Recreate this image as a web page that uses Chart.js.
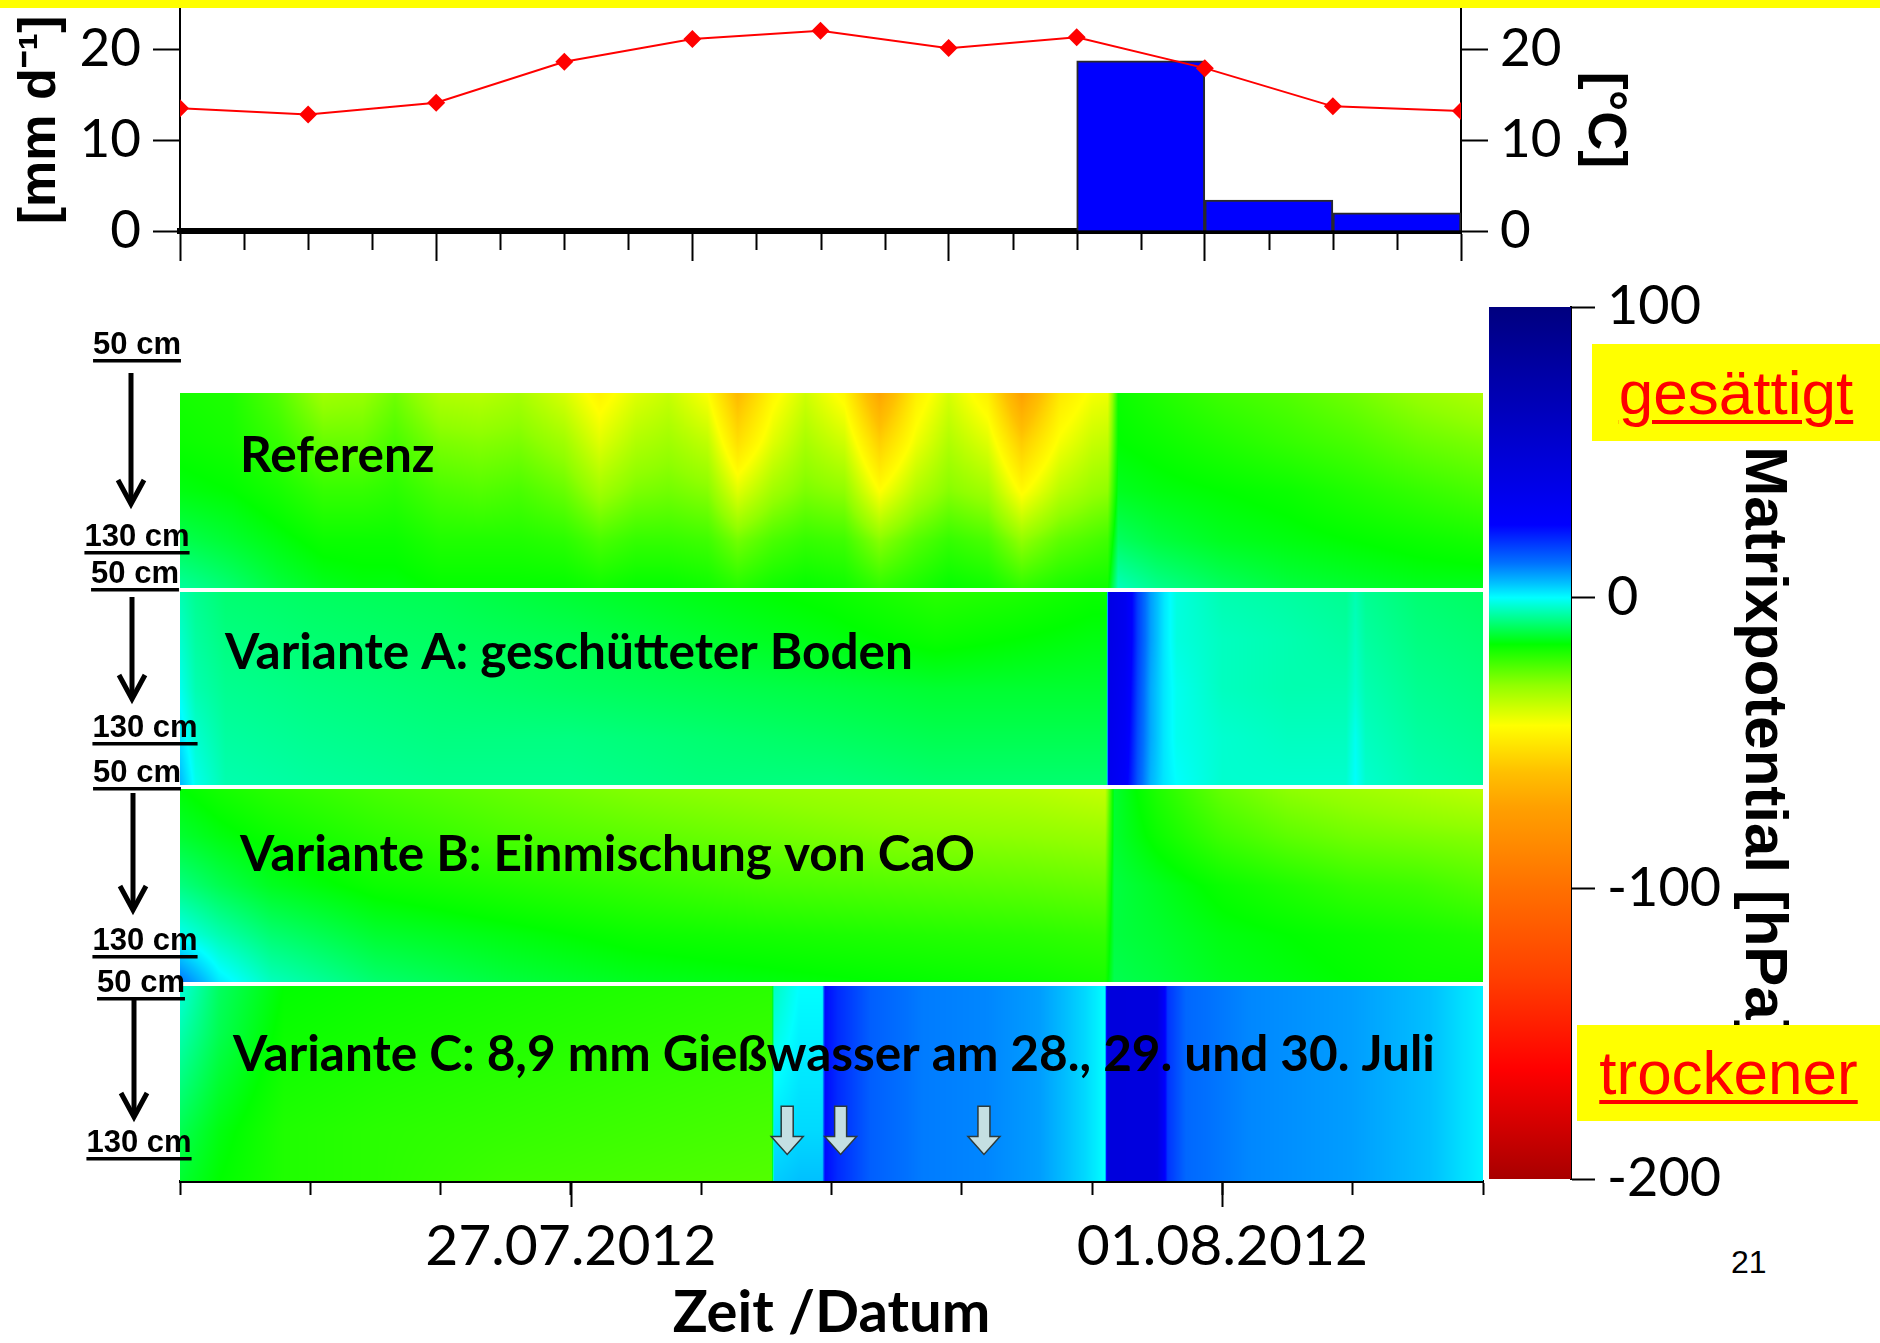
<!DOCTYPE html>
<html><head><meta charset="utf-8">
<script src="https://cdn.jsdelivr.net/npm/chart.js@4.4.1/dist/chart.umd.min.js"></script>
<style>
html,body{margin:0;padding:0;background:#fff;width:1880px;height:1343px;overflow:hidden;position:relative;}
canvas{position:absolute;}
#band{position:absolute;left:0;top:0;width:1880px;height:8px;background:#ffff00;}
.box{position:absolute;background:#ffff00;color:#ff0000;font-family:"Liberation Sans",Arial,sans-serif;font-size:62px;text-decoration:underline;text-decoration-thickness:4px;text-underline-offset:6px;display:flex;align-items:center;justify-content:center;line-height:1;}
#page{position:absolute;left:1731px;top:1244px;font-family:"Liberation Sans",Arial,sans-serif;font-size:32px;color:#000;}
</style></head>
<body>
<canvas id="top" width="1700" height="266" style="left:0;top:0"></canvas>
<canvas id="heat" width="1487" height="1103" style="left:0;top:240px"></canvas>
<canvas id="cbar" width="400" height="930" style="left:1480px;top:280px"></canvas>
<div id="band"></div>
<div class="box" style="left:1592px;top:344px;width:288px;height:97px">gesättigt</div>
<div class="box" style="left:1577px;top:1025px;width:303px;height:96px">trockener</div>
<div id="page">21</div>
<script>
// ---------------- DATA ----------------
// day 0 = 24.07.2012
const tempDays = [0, 1, 2, 3, 4, 5, 6, 7, 8, 9, 10];
const temperature = [13.5, 12.8, 14.1, 18.6, 21.1, 22.0, 20.1, 21.3, 17.9, 13.7, 13.2];
const precipDays = [7.5, 8.5, 9.5];
const precipitation = [18.7, 3.4, 2.0];

const dateTickDays = [3, 8];
const dateTickLabels = ['27.07.2012', '01.08.2012'];

const depths = [50, 70, 90, 110, 130];
const panelNames = ['Referenz', 'Variante A: geschütteter Boden', 'Variante B: Einmischung von CaO',
  'Variante C: 8,9 mm Gießwasser am 28., 29. und 30. Juli'];

const refTimes = [0, 0.4, 0.75, 1.1, 1.4, 1.65, 2.0, 2.3, 2.6, 2.95, 3.22, 3.5, 3.75, 4.05, 4.28, 4.55, 4.8, 5.1, 5.37, 5.65, 5.9, 6.2, 6.46, 6.75, 7.0, 7.12, 7.2, 7.5, 8.0, 8.5, 9.0, 9.5, 10];
const refValues = [
  [-18, -19, -24, -32, -31, -27, -34, -35, -33, -39, -47, -40, -37, -44, -62, -46, -38, -46, -70, -48, -39, -48, -72, -50, -43, -42, -17, -19, -22, -24, -27, -31, -34],
  [-17, -18, -21, -26, -26, -23, -28, -29, -28, -32, -40, -34, -32, -36, -52, -40, -33, -38, -56, -42, -34, -40, -57, -43, -37, -36, -16, -17, -19, -21, -23, -26, -28],
  [-15, -16, -18, -21, -21, -20, -23, -24, -23, -26, -32, -28, -27, -29, -40, -32, -28, -30, -44, -34, -29, -32, -45, -35, -31, -30, -14, -15, -16, -17, -19, -21, -23],
  [-11, -13, -15, -17, -17, -17, -19, -19, -19, -20, -23, -21, -21, -22, -27, -23, -21, -22, -29, -24, -21, -23, -30, -25, -23, -22, -10, -12, -14, -15, -16, -17, -18],
  [-6, -9, -12, -14, -15, -15, -16, -16, -16, -16, -17, -16, -16, -17, -19, -17, -16, -17, -20, -18, -16, -17, -20, -18, -17, -17, -4, -7, -10, -12, -13, -14, -14]
];

const varATimes = [0, 0.12, 0.35, 1.0, 2.0, 3.0, 4.0, 5.0, 5.8, 6.4, 7.0, 7.11, 7.13, 7.25, 7.35, 7.45, 7.55, 7.65, 8.0, 8.5, 8.95, 9.02, 9.1, 9.5, 10];
const varAValues = [
  [-5, -7, -9, -10, -11, -13, -15, -17, -20, -19, -17, -17, 40, 34, 18, 8, 2, -2, -5, -6, -7, -5, -7, -9, -10],
  [-3, -6, -8, -9, -10, -11, -13, -15, -17, -16, -15, -15, 40, 34, 18, 8, 2, -2, -4, -5, -6, -4, -6, -8, -9],
  [-1, -5, -7, -8, -9, -10, -11, -12, -13, -13, -13, -13, 38, 32, 17, 7, 2, -1, -4, -5, -5, -3, -5, -7, -8],
  [2, -3, -6, -7, -8, -8, -9, -10, -11, -11, -11, -11, 36, 30, 16, 7, 2, -1, -3, -4, -4, -1, -4, -6, -7],
  [6, -1, -5, -6, -7, -7, -8, -8, -9, -9, -9, -9, 34, 28, 15, 6, 2, 0, -3, -3, -3, 0, -3, -5, -6]
];

const varBTimes = [0, 0.3, 0.7, 1.5, 2.5, 3.5, 4.5, 5.5, 6.5, 7.1, 7.17, 7.5, 8.0, 8.5, 9.0, 9.5, 10];
const varBValues = [
  [-16, -18, -20, -23, -26, -29, -31, -33, -35, -37, -13, -19, -26, -30, -32, -34, -36],
  [-13, -15, -17, -20, -23, -25, -27, -29, -30, -31, -13, -17, -22, -25, -27, -28, -29],
  [-8, -11, -14, -17, -19, -21, -23, -24, -25, -26, -12, -14, -17, -19, -21, -22, -24],
  [-1, -5, -9, -13, -15, -17, -18, -19, -20, -21, -12, -13, -15, -16, -17, -18, -19],
  [12, 2, -4, -9, -12, -14, -15, -16, -17, -18, -11, -12, -14, -15, -16, -17, -17]
];

const varCTimes = [0, 0.3, 0.8, 1.5, 2.5, 3.5, 4.54, 4.56, 4.75, 4.93, 4.95, 5.05, 5.3, 5.7, 6.2, 6.6, 6.95, 7.1, 7.12, 7.5, 7.58, 7.72, 8.2, 9.0, 9.6, 10];
const varCValues = [
  [-2, -10, -16, -17, -18, -19, -20, -4, 0, 0, 24, 20, 14, 11, 10, 8, 3, 0, 45, 44, 19, 13, 10, 8, 5, 1],
  [-5, -11, -17, -18, -19, -20, -21, -2, 1, 1, 24, 20, 14, 11, 10, 8, 3, 0, 45, 44, 19, 13, 10, 8, 5, 1],
  [-8, -13, -18, -19, -20, -21, -22, 0, 2, 2, 24, 20, 14, 11, 10, 8, 3, 0, 45, 44, 19, 13, 10, 8, 5, 1],
  [-11, -15, -19, -20, -21, -22, -23, 2, 3, 3, 24, 20, 14, 11, 10, 8, 3, 0, 45, 44, 19, 13, 10, 8, 5, 1],
  [-13, -16, -19, -20, -22, -23, -24, 4, 5, 5, 24, 20, 14, 11, 10, 8, 3, 0, 45, 44, 19, 13, 10, 8, 5, 1]
];

const wateringDays = [4.66, 5.07, 6.17];

const colorbarTicks = [100, 0, -100, -200];
const cmapValues = [100, 25, 12, 5, 0, -8, -16, -30, -44, -60, -72, -100, -130, -162, -200];
const cmapColors = ['#00007f', '#0000ff', '#0070ff', '#00c0ff', '#00ffff', '#00ff80', '#00ff00', '#90ff00',
  '#ffff00', '#ffc000', '#ffa000', '#ff7000', '#ff4000', '#ff0000', '#a80000'];

// ---------------- HELPERS ----------------
Chart.defaults.font.family = 'Lato, "DejaVu Sans", sans-serif';
Chart.defaults.color = '#000';

const panels = [
  {times: refTimes, values: refValues},
  {times: varATimes, values: varAValues},
  {times: varBTimes, values: varBValues},
  {times: varCTimes, values: varCValues}
];
function hexToRgb(h) { return [parseInt(h.slice(1, 3), 16), parseInt(h.slice(3, 5), 16), parseInt(h.slice(5, 7), 16)]; }
const cmapRgb = cmapColors.map(hexToRgb);
function colorFor(v) {
  if (v >= cmapValues[0]) return cmapRgb[0];
  for (let i = 1; i < cmapValues.length; i++) {
    if (v >= cmapValues[i]) {
      const f = (cmapValues[i - 1] - v) / (cmapValues[i - 1] - cmapValues[i]);
      const a = cmapRgb[i - 1], b = cmapRgb[i];
      return [a[0] + (b[0] - a[0]) * f, a[1] + (b[1] - a[1]) * f, a[2] + (b[2] - a[2]) * f];
    }
  }
  return cmapRgb[cmapRgb.length - 1];
}
function sample(xs, ys, t) {
  if (t <= xs[0]) return ys[0];
  for (let i = 1; i < xs.length; i++) {
    if (t <= xs[i]) { const f = (t - xs[i - 1]) / (xs[i] - xs[i - 1]); return ys[i - 1] + (ys[i] - ys[i - 1]) * f; }
  }
  return ys[ys.length - 1];
}

// ---------------- TOP CHART ----------------
const minorTicks = {
  id: 'minorTicks',
  afterDraw(chart) {
    const {ctx, chartArea: a, scales: {x}} = chart;
    ctx.save(); ctx.strokeStyle = '#000'; ctx.lineWidth = 2;
    for (let t = 0.5; t < 10; t += 0.5) {
      if (t % 2 === 0) continue;
      const px = Math.round(x.getPixelForValue(t)) + 0.5;
      ctx.beginPath(); ctx.moveTo(px, a.bottom); ctx.lineTo(px, a.bottom + 19); ctx.stroke();
    }
    ctx.restore();
  }
};
const yTickCommon = {stepSize: 10, includeBounds: false, color: '#000', font: {size: 53, lineHeight: 1}, padding: 12};
const yGridCommon = {drawOnChartArea: false, tickLength: 27, tickColor: '#000', tickWidth: 2};
new Chart(document.getElementById('top'), {
  type: 'bar',
  data: {
    datasets: [
      {type: 'line', label: 'Temperatur', data: tempDays.map((d, i) => ({x: d, y: temperature[i]})), yAxisID: 'yT',
        borderColor: '#ff0000', borderWidth: 2, pointStyle: 'rectRot', pointRadius: 9, pointHoverRadius: 9,
        pointBackgroundColor: '#ff0000', pointBorderWidth: 0, tension: 0, order: 0},
      {type: 'bar', label: 'Niederschlag', data: precipDays.map((d, i) => ({x: d, y: precipitation[i]})), yAxisID: 'yP',
        backgroundColor: '#0000ff', borderColor: '#2a2a2a', borderWidth: 2, barPercentage: 1, categoryPercentage: 1, order: 1}
    ]
  },
  options: {
    responsive: false, animation: false, devicePixelRatio: 1,
    layout: {padding: {top: 8, left: 0, right: 0, bottom: 0}},
    plugins: {legend: {display: false}, tooltip: {enabled: false}},
    scales: {
      x: {type: 'linear', min: 0, max: 10, offset: false, ticks: {display: false, stepSize: 2},
        grid: {offset: false, drawOnChartArea: false, tickLength: 30, tickColor: '#000', tickWidth: 2},
        border: {color: '#000', width: 6},
        afterFit(s) { s.height = 35; s.paddingLeft = 0; s.paddingRight = 0; }},
      yP: {position: 'left', min: 0, max: 24.4, ticks: yTickCommon, grid: yGridCommon, border: {color: '#000', width: 2},
        title: {display: true, text: '[mm d⁻¹]', color: '#000', font: {family: '"Liberation Sans", Arial', weight: 'bold', size: 52}, padding: {top: 9}},
        afterFit(s) { s.width = 180; s.paddingTop = 0; s.paddingBottom = 0; }},
      yT: {position: 'right', min: 0, max: 24.4, ticks: yTickCommon, grid: yGridCommon, border: {color: '#000', width: 2},
        title: {display: true, text: '[°C]', color: '#000', font: {family: '"Liberation Sans", Arial', weight: 'bold', size: 54}, padding: {top: 64}},
        afterFit(s) { s.width = 239; s.paddingTop = 0; s.paddingBottom = 0; }}
    }
  },
  plugins: [minorTicks]
});

// ---------------- HEATMAP CHART ----------------
const labelOffsets = [60, 45, 60, 53];
const labelFractions = [0.32, 0.32, 0.345, 0.36];
const depthMarks = [
  {top: [137, 105], arrow: [131, 133, 266], bottom: [137, 297]},
  {top: [135, 334], arrow: [132, 357, 461], bottom: [145, 488]},
  {top: [137, 533], arrow: [133, 553, 672], bottom: [145, 701]},
  {top: [141, 743], arrow: [134, 760, 879], bottom: [139, 903]}
];
function underlinedText(ctx, txt, cx, cy) {
  ctx.font = 'bold 31px "Liberation Sans", Arial';
  ctx.textAlign = 'center'; ctx.textBaseline = 'middle'; ctx.fillStyle = '#000';
  ctx.fillText(txt, cx, cy);
  const w = ctx.measureText(txt).width;
  ctx.fillRect(cx - w / 2, cy + 14, w, 3.5);
}
const heatPlugin = {
  id: 'heat',
  beforeDatasetsDraw(chart) {
    const {ctx, chartArea: a, scales: {x, y}} = chart;
    panels.forEach((p, i) => {
      const x0 = Math.round(x.getPixelForValue(x.min)), x1 = Math.round(x.getPixelForValue(x.max));
      const y0 = Math.round(y.getPixelForValue(i)), y1 = Math.round(y.getPixelForValue(i + 1));
      const w = x1 - x0, h = y1 - y0;
      const off = document.createElement('canvas'); off.width = w; off.height = h;
      const octx = off.getContext('2d'); const img = octx.createImageData(w, h);
      const dTop = depths[0], dBot = depths[depths.length - 1];
      for (let px = 0; px < w; px++) {
        const t = x.getValueForPixel(x0 + px + 0.5);
        const col = p.values.map(row => sample(p.times, row, t));
        for (let py = 0; py < h; py++) {
          const dep = dTop + (y.getValueForPixel(y0 + py + 0.5) - i) * (dBot - dTop);
          const c = colorFor(sample(depths, col, dep));
          const k = (py * w + px) * 4;
          img.data[k] = c[0]; img.data[k + 1] = c[1]; img.data[k + 2] = c[2]; img.data[k + 3] = 255;
        }
      }
      octx.putImageData(img, 0, 0);
      ctx.drawImage(off, x0, y0);
    });
    ctx.save(); ctx.fillStyle = '#ffffff';
    for (let i = 1; i < panels.length; i++) {
      const py = y.getPixelForValue(i);
      ctx.fillRect(a.left, py - 2, a.right - a.left, 4);
    }
    ctx.restore();
  },
  afterDatasetsDraw(chart) {
    const {ctx, chartArea: a, scales: {x, y}} = chart;
    ctx.save();
    ctx.font = 'bold 49.5px Lato, "DejaVu Sans"'; ctx.fillStyle = '#000'; ctx.textAlign = 'left'; ctx.textBaseline = 'middle';
    panelNames.forEach((n, i) => ctx.fillText(n, a.left + labelOffsets[i], y.getPixelForValue(i + labelFractions[i])));
    wateringDays.forEach(d => {
      const cx = x.getPixelForValue(d), yt = y.getPixelForValue(3.62), yb = y.getPixelForValue(3.865), yh = yb - 18;
      ctx.beginPath();
      ctx.moveTo(cx - 6, yt); ctx.lineTo(cx + 6, yt); ctx.lineTo(cx + 6, yh); ctx.lineTo(cx + 16, yh);
      ctx.lineTo(cx, yb); ctx.lineTo(cx - 16, yh); ctx.lineTo(cx - 6, yh); ctx.closePath();
      ctx.fillStyle = '#c4dfe2'; ctx.fill(); ctx.lineWidth = 1.5; ctx.strokeStyle = '#2b3a3c'; ctx.stroke();
    });
    depthMarks.forEach(m => {
      underlinedText(ctx, '50 cm', m.top[0], m.top[1]);
      underlinedText(ctx, '130 cm', m.bottom[0], m.bottom[1]);
      const [ax, a0, a1] = m.arrow;
      ctx.strokeStyle = '#000'; ctx.lineWidth = 5; ctx.lineCap = 'butt'; ctx.lineJoin = 'miter';
      ctx.beginPath(); ctx.moveTo(ax, a0); ctx.lineTo(ax, a1 - 3); ctx.stroke();
      ctx.beginPath(); ctx.moveTo(ax - 13, a1 - 26); ctx.lineTo(ax, a1 - 2); ctx.lineTo(ax + 13, a1 - 26); ctx.stroke();
    });
    ctx.restore();
  },
  afterDraw(chart) {
    const {ctx, chartArea: a, scales: {x}} = chart;
    ctx.save(); ctx.strokeStyle = '#000'; ctx.lineWidth = 2;
    dateTickDays.forEach(d => {
      const px = Math.round(x.getPixelForValue(d)) + 0.5;
      ctx.beginPath(); ctx.moveTo(px, a.bottom); ctx.lineTo(px, a.bottom + 26); ctx.stroke();
    });
    ctx.restore();
  }
};
new Chart(document.getElementById('heat'), {
  type: 'scatter',
  data: {datasets: []},
  options: {
    responsive: false, animation: false, devicePixelRatio: 1,
    layout: {padding: {left: 180, right: 4, top: 153, bottom: 0}},
    plugins: {legend: {display: false}, tooltip: {enabled: false}},
    scales: {
      x: {type: 'linear', min: 0, max: 10,
        ticks: {stepSize: 1, autoSkip: false, maxRotation: 0, minRotation: 0, color: '#000', font: {size: 57, lineHeight: 1}, padding: 23,
          callback: v => { const i = dateTickDays.indexOf(v); return i >= 0 ? dateTickLabels[i] : ''; }},
        grid: {drawOnChartArea: false, tickLength: 14, tickColor: '#000', tickWidth: 2},
        border: {color: '#000', width: 3},
        title: {display: true, text: 'Zeit /Datum', color: '#000', font: {size: 58, weight: 'bold', lineHeight: 1}, padding: {top: 0, bottom: 1}},
        afterFit(s) { s.height = 162; s.paddingLeft = 0; s.paddingRight = 0; }},
      y: {type: 'linear', min: 0, max: 4, reverse: true, display: false}
    }
  },
  plugins: [heatPlugin]
});

// ---------------- COLORBAR ----------------
new Chart(document.getElementById('cbar'), {
  type: 'bar',
  data: {labels: ['Matrixpotential'], datasets: [{
    data: [[colorbarTicks[colorbarTicks.length - 1], colorbarTicks[0]]],
    backgroundColor(c) {
      const ch = c.chart, a = ch.chartArea;
      if (!a) return '#00ffff';
      const ys = ch.scales.y;
      const g = ch.ctx.createLinearGradient(0, a.top, 0, a.bottom);
      cmapValues.forEach((v, i) => g.addColorStop(Math.min(1, Math.max(0, (ys.getPixelForValue(v) - a.top) / (a.bottom - a.top))), cmapColors[i]));
      return g;
    },
    borderWidth: 0, barPercentage: 1, categoryPercentage: 1
  }]},
  options: {
    responsive: false, animation: false, devicePixelRatio: 1,
    layout: {padding: {left: 9, top: 27, bottom: 31, right: 0}},
    plugins: {legend: {display: false}, tooltip: {enabled: false}},
    scales: {
      x: {display: false},
      y: {position: 'right', min: colorbarTicks[colorbarTicks.length - 1], max: colorbarTicks[0],
        ticks: {stepSize: 100, color: '#000', font: {size: 54, lineHeight: 1}, padding: 12},
        grid: {drawOnChartArea: false, tickLength: 24, tickColor: '#000', tickWidth: 2},
        border: {color: '#000', width: 2},
        title: {display: true, text: 'Matrixpotential [hPa]', color: '#000', font: {family: '"Liberation Sans", Arial', size: 60, weight: 'bold'}, padding: {top: 81}},
        afterFit(s) { s.width = 309; s.paddingTop = 0; s.paddingBottom = 0; }}
    }
  }
});
</script>
</body></html>
